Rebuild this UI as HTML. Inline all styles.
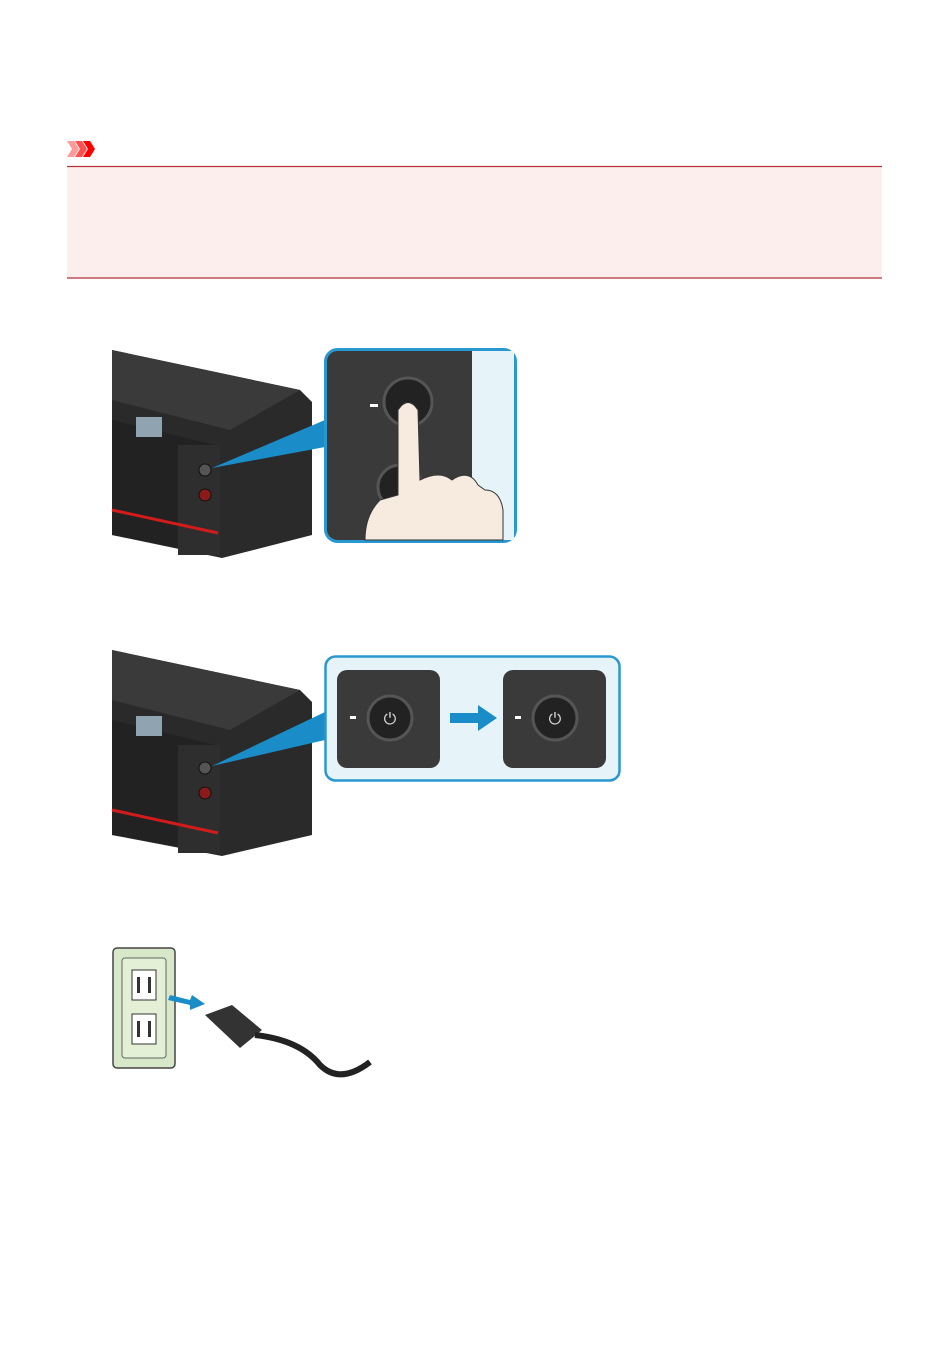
<!DOCTYPE html>
<html><head><style>
html,body{margin:0;padding:0;background:#fff;width:950px;height:1369px;overflow:hidden;font-family:"Liberation Sans",sans-serif;}
</style></head><body>
<svg width="950" height="1369" viewBox="0 0 950 1369" xmlns="http://www.w3.org/2000/svg">
<!-- important icon -->
<polygon points="67,141 74,141 79,149 74,157 67,157 72,149" fill="#ff9a9a"/>
<polygon points="75,141 82,141 87,149 82,157 75,157 80,149" fill="#ff5050"/>
<polygon points="83,141 90,141 95,149 90,157 83,157 88,149" fill="#ff0000"/>
<rect x="67" y="166" width="815" height="112" fill="#fdeeee"/>
<line x1="67" y1="166.5" x2="882" y2="166.5" stroke="#b5303a" stroke-width="1.2"/>
<line x1="67" y1="278" x2="882" y2="278" stroke="#b5303a" stroke-width="1.2"/>

<!-- printer 1 -->
<g>
<polygon points="112,350 300,390 312,402 312,535 222,558 112,535" fill="#2a2a2a"/>
<polygon points="112,350 300,390 230,430 112,400" fill="#3a3a3a"/>
<polygon points="112,420 215,445 215,555 112,535" fill="#222"/>
<rect x="178" y="445" width="42" height="110" fill="#2e2e2e"/>
<line x1="112" y1="510" x2="218" y2="533" stroke="#d21c1c" stroke-width="3"/>
<rect x="136" y="417" width="26" height="20" fill="#8fa3b0" transform="skew(-5)" />
<circle cx="205" cy="470" r="6" fill="#555" stroke="#111"/>
<circle cx="205" cy="495" r="6" fill="#8b1a1a" stroke="#111"/>
<polygon points="212,468 325,420 325,447" fill="#1a8cc8"/>
<rect x="325.5" y="349.5" width="190" height="192" rx="12" fill="#3a3a3a" stroke="#2a98d0" stroke-width="3"/>
<rect x="472" y="351" width="42" height="189" fill="#e6f4fa"/>
<circle cx="408" cy="402" r="24" fill="#222" stroke="#555" stroke-width="3"/>
<circle cx="400" cy="487" r="22" fill="#222" stroke="#555" stroke-width="3"/>
<rect x="370" y="404" width="8" height="3" fill="#fff"/>
<path d="M398,410 Q408,395 418,410 L420,480 Q440,470 452,480 L455,478 Q470,470 478,485 L485,490 Q500,490 503,510 L503,540 L365,540 Q365,515 380,500 L398,495 Z" fill="#f7ebe0" stroke="#333" stroke-width="1"/>
</g>

<!-- printer 2 -->
<g>
<polygon points="112,650 300,690 312,702 312,835 222,856 112,835" fill="#2a2a2a"/>
<polygon points="112,650 300,690 230,730 112,700" fill="#3a3a3a"/>
<polygon points="112,720 215,745 215,853 112,835" fill="#222"/>
<rect x="178" y="745" width="42" height="108" fill="#2e2e2e"/>
<line x1="112" y1="810" x2="218" y2="833" stroke="#d21c1c" stroke-width="3"/>
<rect x="136" y="716" width="26" height="20" fill="#8fa3b0"/>
<circle cx="205" cy="768" r="6" fill="#555" stroke="#111"/>
<circle cx="205" cy="793" r="6" fill="#8b1a1a" stroke="#111"/>
<polygon points="212,766 325,712 325,740" fill="#1a8cc8"/>
<rect x="325.5" y="656.5" width="294" height="124" rx="10" fill="#e6f4fa" stroke="#2a98d0" stroke-width="2.5"/>
<rect x="337" y="670" width="103" height="98" rx="10" fill="#3a3a3a"/>
<rect x="503" y="670" width="103" height="98" rx="10" fill="#3a3a3a"/>
<circle cx="390" cy="718" r="22" fill="#222" stroke="#555" stroke-width="3"/>
<circle cx="555" cy="718" r="22" fill="#222" stroke="#555" stroke-width="3"/>
<text x="390" y="724" fill="#ddd" font-size="16" text-anchor="middle">⏻</text>
<text x="555" y="724" fill="#ddd" font-size="16" text-anchor="middle">⏻</text>
<rect x="350" y="716" width="6" height="3" fill="#fff"/>
<rect x="515" y="716" width="6" height="3" fill="#fff"/>
<polygon points="450,713 478,713 478,705 497,718 478,731 478,723 450,723" fill="#1a8cc8"/>
</g>

<!-- outlet & plug -->
<g>
<rect x="113" y="948" width="62" height="120" rx="4" fill="#d6e8c8" stroke="#444" stroke-width="1.5"/>
<rect x="122" y="958" width="44" height="100" rx="3" fill="#e4f0d6" stroke="#666"/>
<rect x="132" y="970" width="24" height="30" fill="#fff" stroke="#333"/>
<rect x="132" y="1014" width="24" height="30" fill="#fff" stroke="#333"/>
<rect x="137" y="977" width="3" height="16" fill="#333"/><rect x="148" y="977" width="3" height="16" fill="#333"/>
<rect x="137" y="1021" width="3" height="16" fill="#333"/><rect x="148" y="1021" width="3" height="16" fill="#333"/>
<polygon points="170,995 190,1000 192,995 205,1004 190,1010 190,1005 168,1000" fill="#1a8cc8"/>
<path d="M205,1015 L232,1005 L262,1030 L240,1048 Z" fill="#333"/>
<path d="M255,1035 Q300,1040 320,1065 Q340,1085 370,1062" fill="none" stroke="#222" stroke-width="6"/>
</g>
</svg>
</body></html>
